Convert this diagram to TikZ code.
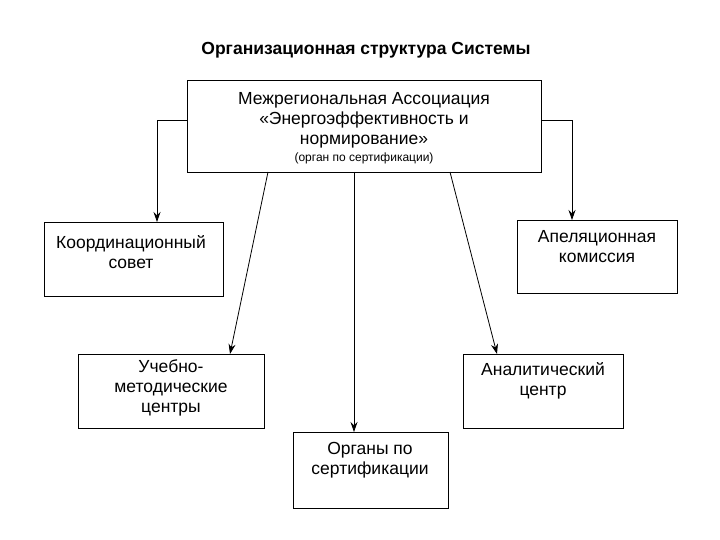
\documentclass[tikz,border=0pt]{standalone}
\usepackage{fontspec}
\setmainfont{Liberation Sans}
\usetikzlibrary{arrows.meta}
\tikzset{box/.style={draw,line width=0.8pt,align=center,inner sep=0pt},
 arr/.style={line width=0.8pt,-{Stealth[length=10pt,width=7pt]}},
 txt/.style={font=\fontsize{17.5}{20}\selectfont,align=center}}
\begin{document}
\begin{tikzpicture}[x=1pt,y=-1pt]
\useasboundingbox (0,0) rectangle (720,540);
\node[font=\bfseries\fontsize{17.5}{20}\selectfont] (title) at (366,50) {Организационная структура Системы};
\draw[line width=0.8pt] (187,80) rectangle (541,172);
\node[txt] (toptxt) at (364,120) {Межрегиональная Ассоциация\\«Энергоэффективность и\\нормирование»};
\node[font=\fontsize{12}{14}\selectfont] (topsmall) at (364,158) {(орган по сертификации)};
\node[box,minimum width=179pt,minimum height=74pt] (koord) at (133.5,259) {};
\node[txt] (koordt) at (131,252) {Координационный\\совет};
\node[box,minimum width=160pt,minimum height=73pt] (apel) at (597,256.5) {};
\node[txt] (apelt) at (597,247) {Апеляционная\\комиссия};
\node[box,minimum width=186pt,minimum height=74pt] (ucheb) at (171,391) {};
\node[txt] (uchebt) at (171,388) {Учебно-\\методические\\центры};
\node[box,minimum width=160pt,minimum height=74pt] (anal) at (543,391) {};
\node[txt] (analt) at (543,381) {Аналитический\\центр};
\node[box,minimum width=155pt,minimum height=76pt] (organ) at (370.5,470) {};
\node[txt] (organt) at (370,460) {Органы по\\сертификации};
\coordinate (lA) at (187,120); \coordinate (lB) at (157,120);
\coordinate (rA) at (541,120); \coordinate (rB) at (572,120);
\draw[arr] (lA) -- (lB) -- (157,222);
\draw[arr] (rA) -- (rB) -- (572,220);
\coordinate (d1) at (268,172); \coordinate (d2) at (450,172); \coordinate (d3) at (354,172);
\draw[arr] (d1) -- (230,354);
\draw[arr] (d2) -- (497,354);
\draw[arr] (d3) -- (354,432);
\end{tikzpicture}
\end{document}
